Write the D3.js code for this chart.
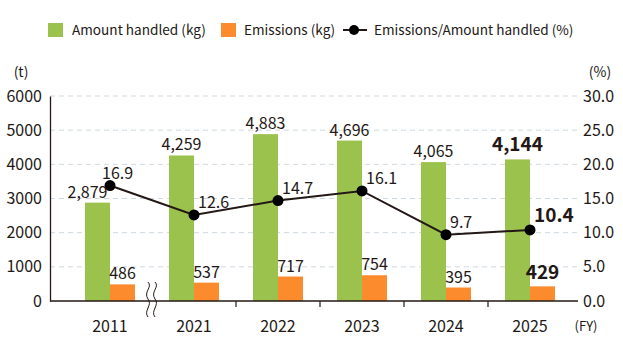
<!DOCTYPE html>
<html>
<head>
<meta charset="utf-8">
<script src="https://cdn.jsdelivr.net/npm/d3@7"></script>
<style>
  body { margin: 0; background: #fff; }
  text { font-family: "Noto Sans CJK JP", "Noto Sans", sans-serif; fill: #231815; }
</style>
</head>
<body>
<div id="chart"></div>
<script>
// data
var years      = ["2011", "2021", "2022", "2023", "2024", "2025"];
var handled    = [2879, 4259, 4883, 4696, 4065, 4144];
var emissions  = [486, 537, 717, 754, 395, 429];
var ratio      = [16.9, 12.6, 14.7, 16.1, 9.7, 10.4];
var left_ticks  = [0, 1000, 2000, 3000, 4000, 5000, 6000];
var right_ticks = [0, 5, 10, 15, 20, 25, 30];

// --------------------------------------------------------
var chart_width  = 623;
var chart_height = 353;
var green  = "#9bc24d";
var orange = "#fb8b2d";
var ink    = "#231815";

var svg = d3.select("#chart")
    .append("svg")
    .attr("width", chart_width)
    .attr("height", chart_height);

// scales
var x_scale = d3.scaleBand().domain(years).range([68, 572]);
var x_sub   = d3.scaleBand().domain(["h", "e"]).range([-25, 25]);
var y_left  = d3.scaleLinear().domain([0, 6000]).range([301, 96]);
var y_right = d3.scaleLinear().domain([0, 30]).range([301, 96]);
var cx = (d) => x_scale(d) + x_scale.bandwidth() / 2;

// --------------------------------------------------------
// grid lines
svg.append("g")
    .selectAll("line")
    .data(left_ticks.slice(1))
    .enter()
    .append("line")
    .attr("x1", 50).attr("x2", 578)
    .attr("y1", (d) => y_left(d)).attr("y2", (d) => y_left(d))
    .attr("stroke", "#cfd9e0")
    .attr("stroke-width", 1)
    .attr("stroke-dasharray", "5,4");

// left axis
var y_axis = d3.axisLeft(y_left).tickValues(left_ticks).tickSize(0).tickPadding(8)
    .tickFormat(d3.format("d"));
var gl = svg.append("g")
    .attr("transform", "translate(50,0)")
    .call(y_axis);
gl.select(".domain").attr("stroke", ink).attr("stroke-width", 1.3);
gl.selectAll("text").style("font-size", "16px").attr("fill", ink);

// right axis (labels only)
var y_axis_r = d3.axisRight(y_right).tickValues(right_ticks).tickSize(0).tickPadding(5)
    .tickFormat(d3.format(".1f"));
var gr = svg.append("g")
    .attr("transform", "translate(578,0)")
    .call(y_axis_r);
gr.select(".domain").remove();
gr.selectAll("text").style("font-size", "16px").attr("fill", ink);

// bars
var groups = svg.append("g")
    .selectAll("g")
    .data(years)
    .enter()
    .append("g")
    .attr("transform", (d) => "translate(" + cx(d) + ",0)");

groups.append("rect")
    .attr("x", x_sub("h"))
    .attr("width", x_sub.bandwidth())
    .attr("y", (d, i) => y_left(handled[i]))
    .attr("height", (d, i) => y_left(0) - y_left(handled[i]))
    .attr("fill", green);

groups.append("rect")
    .attr("x", x_sub("e"))
    .attr("width", x_sub.bandwidth())
    .attr("y", (d, i) => y_left(emissions[i]))
    .attr("height", (d, i) => y_left(0) - y_left(emissions[i]))
    .attr("fill", orange);

// x axis baseline + ticks between years (not across the break)
svg.append("line")
    .attr("x1", 50).attr("x2", 578)
    .attr("y1", 301).attr("y2", 301)
    .attr("stroke", ink).attr("stroke-width", 1.3);

svg.append("g")
    .selectAll("line")
    .data(years.slice(2))
    .enter()
    .append("line")
    .attr("x1", (d) => x_scale(d)).attr("x2", (d) => x_scale(d))
    .attr("y1", 301).attr("y2", 307)
    .attr("stroke", ink).attr("stroke-width", 1.2);

// break mark
var wave = (x0) => "M" + x0 + ",282 c5,5 -5,10 0,17 c5,6 -5,12 0,18";
[148, 155].forEach((x0) => {
    svg.append("path")
        .attr("d", wave(x0))
        .attr("fill", "none")
        .attr("stroke", ink)
        .attr("stroke-width", 1);
});

// year labels
svg.append("g")
    .selectAll("text")
    .data(years)
    .enter()
    .append("text")
    .attr("x", (d) => cx(d))
    .attr("y", 332)
    .attr("text-anchor", "middle")
    .style("font-size", "16px")
    .text((d) => d);

svg.append("text").attr("x", 586).attr("y", 331).attr("text-anchor", "middle")
    .style("font-size", "13px").text("(FY)");
svg.append("text").attr("x", 21).attr("y", 77).attr("text-anchor", "middle")
    .style("font-size", "14px").text("(t)");
svg.append("text").attr("x", 600).attr("y", 77).attr("text-anchor", "middle")
    .style("font-size", "14px").text("(%)");

// line
var line = d3.line()
    .x((d, i) => cx(years[i]))
    .y((d) => y_right(d));

svg.append("path")
    .datum(ratio)
    .attr("d", line)
    .attr("fill", "none")
    .attr("stroke", ink)
    .attr("stroke-width", 2);

svg.append("g")
    .selectAll("circle")
    .data(ratio)
    .enter()
    .append("circle")
    .attr("cx", (d, i) => cx(years[i]))
    .attr("cy", (d) => y_right(d))
    .attr("r", 5.5)
    .attr("fill", "#000");

// value labels
var fmt = d3.format(",");
var last = years.length - 1;
var size = (i) => i === last ? "19px" : "16px";
var weight = (i) => i === last ? "bold" : "normal";

svg.append("g")
    .selectAll("text")
    .data(handled)
    .enter()
    .append("text")
    .attr("x", (d, i) => cx(years[i]) + x_sub("h") + x_sub.bandwidth() / 2 + (i === 0 ? -10 : 0))
    .attr("y", (d, i) => y_left(d) - (i === last ? 8 : 5))
    .attr("text-anchor", "middle")
    .style("font-size", (d, i) => size(i))
    .style("font-weight", (d, i) => weight(i))
    .text((d) => fmt(d));

svg.append("g")
    .selectAll("text")
    .data(emissions)
    .enter()
    .append("text")
    .attr("x", (d, i) => cx(years[i]) + x_sub("e") + x_sub.bandwidth() / 2)
    .attr("y", (d, i) => y_left(d) - (i === last ? 7 : 5))
    .attr("text-anchor", "middle")
    .style("font-size", (d, i) => size(i))
    .style("font-weight", (d, i) => weight(i))
    .text((d) => fmt(d));

svg.append("g")
    .selectAll("text")
    .data(ratio)
    .enter()
    .append("text")
    .attr("x", (d, i) => cx(years[i]) + (i === 0 ? -8 : 4))
    .attr("y", (d, i) => y_right(d) - (i === last ? 8 : 7))
    .style("font-size", (d, i) => size(i))
    .style("font-weight", (d, i) => weight(i))
    .text((d) => d.toFixed(1));

// legend
var legend = svg.append("g").attr("transform", "translate(0,30)");
legend.append("rect").attr("x", 48).attr("y", -7).attr("width", 15).attr("height", 14).attr("fill", green);
legend.append("text").attr("x", 72).attr("y", 5).style("font-size", "13.6px").text("Amount handled (kg)");
legend.append("rect").attr("x", 221).attr("y", -7).attr("width", 15).attr("height", 14).attr("fill", orange);
legend.append("text").attr("x", 244).attr("y", 5).style("font-size", "13.6px").text("Emissions (kg)");
legend.append("line").attr("x1", 343).attr("x2", 367).attr("y1", 0).attr("y2", 0)
    .attr("stroke", ink).attr("stroke-width", 2);
legend.append("circle").attr("cx", 354).attr("cy", 0).attr("r", 5).attr("fill", "#000");
legend.append("text").attr("x", 374).attr("y", 5).style("font-size", "13.6px").text("Emissions/Amount handled (%)");
</script>
</body>
</html>
